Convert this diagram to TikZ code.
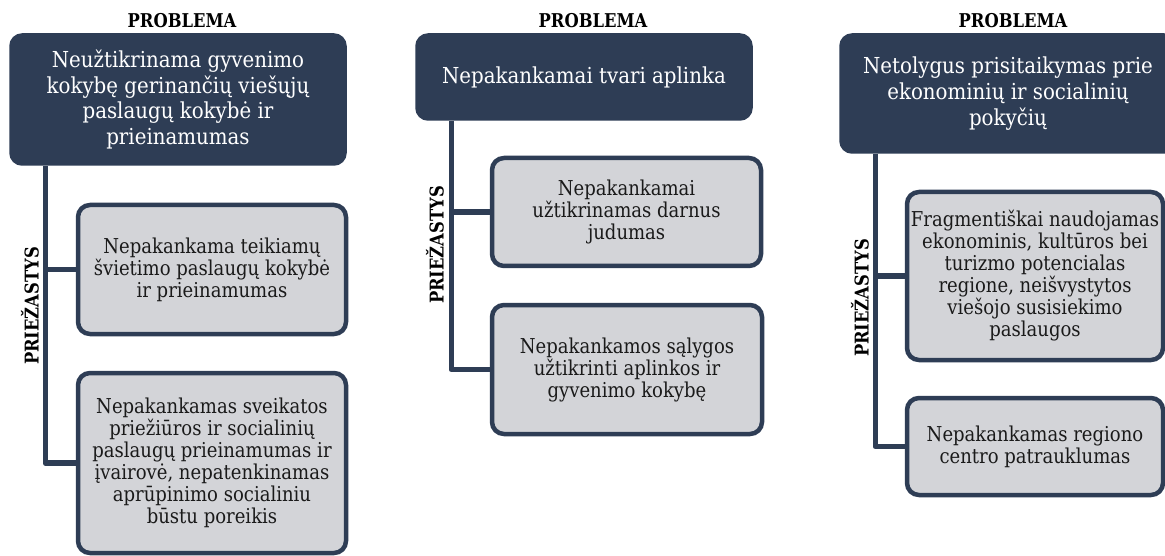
\documentclass[tikz,border=0pt]{standalone}
\usepackage{fontspec}
\setmainfont{DejaVu Serif}
\newfontfamily\darkfont{DejaVu Serif}[FakeStretch=0.9]
\newfontfamily\lightfont{DejaVu Serif}[FakeStretch=0.88]
\newfontfamily\headfont{DejaVu Serif}[FakeStretch=0.86]
\definecolor{navy}{HTML}{2E3D55}
\definecolor{lightbox}{HTML}{D3D4D8}
\definecolor{ink}{HTML}{1A1A1A}
\tikzset{
  probbox/.style={draw=navy, fill=navy, line width=1.5pt, rounded corners=12pt, text=white, align=center, inner sep=2pt, font=\darkfont\fontsize{22}{25.7}\selectfont},
  causebox/.style={draw=navy, fill=lightbox, line width=4.5pt, rounded corners=12pt, text=ink, align=center, inner sep=2pt, font=\lightfont\fontsize{20.5}{22}\selectfont},
  header/.style={font=\headfont\bfseries\fontsize{19}{20}\selectfont, text=black, inner sep=0pt},
  sidelabel/.style={font=\headfont\bfseries\fontsize{19}{20}\selectfont, text=black, rotate=90, inner sep=0pt},
  conn/.style={draw=navy, line width=5.5pt, line join=round}
}
\begin{document}
\begin{tikzpicture}[x=1pt,y=-1pt]
\useasboundingbox[fill=white] (0,0) rectangle (1165,556);

% Column 1
\node[header] (h1) at (182,21) {PROBLEMA};
\node[probbox, minimum width=336pt, minimum height=131pt] (p1) at (178,99.5) {Neužtikrinama gyvenimo\\kokybę gerinančių viešųjų\\paslaugų kokybė ir\\prieinamumas};
\node[causebox, minimum width=268pt, minimum height=129pt] (c11) at (212,269.5) {Nepakankama teikiamų\\švietimo paslaugų kokybė\\ir prieinamumas};
\node[causebox, minimum width=268pt, minimum height=180pt] (c12) at (212,463) {Nepakankamas sveikatos\\priežiūros ir socialinių\\paslaugų prieinamumas ir\\įvairovė, nepatenkinamas\\aprūpinimo socialiniu\\būstu poreikis};
\coordinate (v1) at ([xshift=36pt]p1.south west);
\node[sidelabel] (s1) at (30,306) {PRIEŽASTYS};

% Column 2
\node[header] (h2) at (593,21) {PROBLEMA};
\node[probbox, minimum width=336pt, minimum height=86pt] (p2) at (584,77) {Nepakankamai tvari aplinka};
\node[causebox, minimum width=269pt, minimum height=108pt] (c21) at (626.5,212) {Nepakankamai\\užtikrinamas darnus\\judumas};
\node[causebox, minimum width=270pt, minimum height=129pt] (c22) at (627,369.5) {Nepakankamos sąlygos\\užtikrinti aplinkos ir\\gyvenimo kokybę};
\coordinate (v2) at ([xshift=36pt]p2.south west);
\node[sidelabel] (s2) at (435,245) {PRIEŽASTYS};

% Column 3
\node[header] (h3) at (1013,21) {PROBLEMA};
\node[probbox, minimum width=336pt, minimum height=119pt] (p3) at (1008,93.5) {Netolygus prisitaikymas prie\\ekonominių ir socialinių\\pokyčių};
\node[causebox, minimum width=256pt, minimum height=168pt] (c31) at (1035,276) {Fragmentiškai naudojamas\\ekonominis, kultūros bei\\turizmo potencialas\\regione, neišvystytos\\viešojo susisiekimo\\paslaugos};
\node[causebox, minimum width=256pt, minimum height=97pt] (c32) at (1035,446.5) {Nepakankamas regiono\\centro patrauklumas};
\coordinate (v3) at ([xshift=36pt]p3.south west);
\node[sidelabel] (s3) at (860,298) {PRIEŽASTYS};

% Connectors
\draw[conn] (v1) |- (c12.west);
\draw[conn] (c11.west) -- (c11.west -| v1);
\draw[conn] (v2) |- (c22.west);
\draw[conn] (c21.west) -- (c21.west -| v2);
\draw[conn] (v3) |- (c32.west);
\draw[conn] (c31.west) -- (c31.west -| v3);
\end{tikzpicture}
\end{document}
